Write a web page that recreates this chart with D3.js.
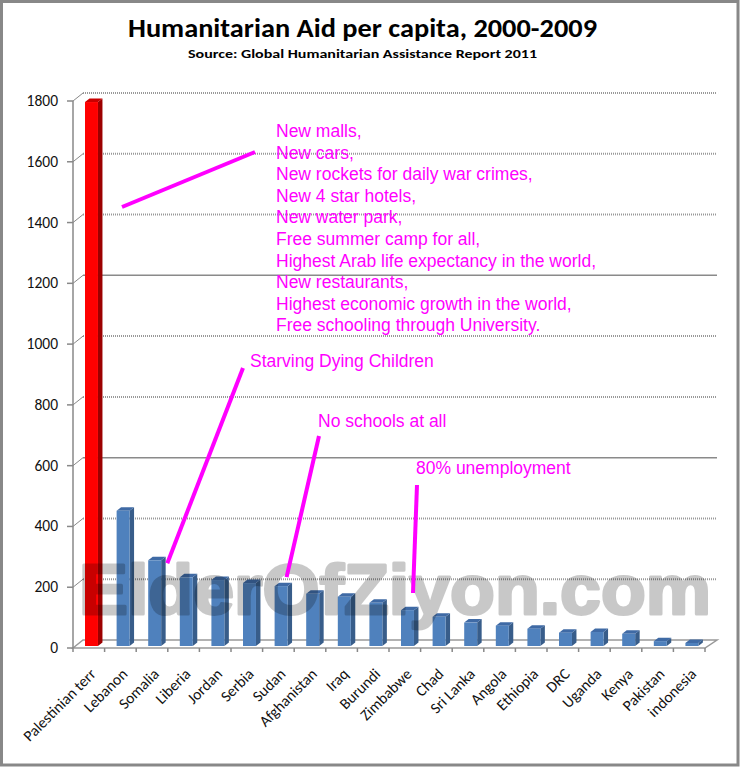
<!DOCTYPE html>
<meta charset="utf-8">
<html>
<body style="margin:0; background-color: white;">
<script src="https://d3js.org/d3.v7.min.js"></script>
<div id="chart"></div>
<script>
// data
var countries = ["Palestinian terr", "Lebanon", "Somalia", "Liberia", "Jordan", "Serbia", "Sudan",
  "Afghanistan", "Iraq", "Burundi", "Zimbabwe", "Chad", "Sri Lanka", "Angola", "Ethiopia",
  "DRC", "Uganda", "Kenya", "Pakistan", "indonesia"];
var aidPerCapita = [1790, 445, 282, 226, 217, 207, 197, 172, 162, 142, 118, 96, 77, 67, 57, 44, 46, 40, 16, 10];
var yTicks = [0, 200, 400, 600, 800, 1000, 1200, 1400, 1600, 1800];
var solidGrid = [600, 1200];

var claims = ["New malls,", "New cars,", "New rockets for daily war crimes,", "New 4 star hotels,",
  "New water park,", "Free summer camp for all,", "Highest Arab life expectancy in the world,",
  "New restaurants,", "Highest economic growth in the world,", "Free schooling through University."];
var notes = [
  {text: "Starving Dying Children", country: "Somalia"},
  {text: "No schools at all", country: "Sudan"},
  {text: "80% unemployment", country: "Zimbabwe"}
];

var W = 741, H = 768;
var svg = d3.select("#chart").append("svg")
  .attr("width", W).attr("height", H);

svg.append("rect")
  .attr("x", 1.5).attr("y", 1.5).attr("width", 736.5).attr("height", 763.5)
  .attr("fill", "white").attr("stroke", "#888").attr("stroke-width", 3);

var tickFont = "Carlito, Calibri, Lato, sans-serif";

// titles
svg.append("text")
  .attr("x", 362.5).attr("y", 37)
  .attr("text-anchor", "middle")
  .attr("font-family", tickFont).attr("font-weight", "bold").attr("font-size", 27)
  .attr("textLength", 469).attr("lengthAdjust", "spacingAndGlyphs")
  .text("Humanitarian Aid per capita, 2000-2009");
svg.append("text")
  .attr("x", 362.5).attr("y", 58)
  .attr("text-anchor", "middle")
  .attr("font-family", tickFont).attr("font-weight", "bold").attr("font-size", 12.5)
  .attr("textLength", 349).attr("lengthAdjust", "spacingAndGlyphs")
  .text("Source: Global Humanitarian Assistance Report 2011");

// scales
var x = d3.scaleBand().domain(countries).range([73, 705]);
var y = d3.scaleLinear().domain([0, 1800]).range([648, 101]);
var bw = x.bandwidth();
var dx = 10, dy = 8;     // depth of the 3d walls
var bdx = 4.5, bdy = 3.5; // depth of a column

// back wall gridlines and side wall connectors
var grid = svg.append("g");
yTicks.forEach(function(t) {
  if (t === 0) return;
  var solid = solidGrid.indexOf(t) >= 0;
  grid.append("line")
    .attr("x1", 73 + dx).attr("x2", 717)
    .attr("y1", y(t) - dy).attr("y2", y(t) - dy)
    .attr("stroke", solid ? "#8a8a8a" : "#999")
    .attr("stroke-width", solid ? 1.5 : 2)
    .attr("stroke-dasharray", solid ? null : "1,1");
  grid.append("line")
    .attr("x1", 73).attr("y1", y(t))
    .attr("x2", 73 + dx).attr("y2", y(t) - dy)
    .attr("stroke", "#888").attr("stroke-width", 1);
});

// floor
svg.append("path")
  .attr("d", "M73," + y(0) + "L" + (73 + dx) + "," + (y(0) - dy) + "L717," + (y(0) - dy) +
    "L705," + y(0) + "Z")
  .attr("fill", "none").attr("stroke", "#999").attr("stroke-width", 1.5);

// y axis
var yAxis = svg.append("g");
yAxis.append("line")
  .attr("x1", 73).attr("x2", 73).attr("y1", y(1800)).attr("y2", y(0))
  .attr("stroke", "#888").attr("stroke-width", 1.5);
yAxis.selectAll(".yt").data(yTicks).enter().append("line")
  .attr("x1", 67).attr("x2", 73)
  .attr("y1", function(d) { return y(d); }).attr("y2", function(d) { return y(d); })
  .attr("stroke", "#888").attr("stroke-width", 1.5);
yAxis.selectAll(".yl").data(yTicks).enter().append("text")
  .attr("x", 58).attr("y", function(d) { return y(d) + 5; })
  .attr("text-anchor", "end")
  .attr("font-family", tickFont).attr("font-size", 15.5)
  .attr("fill", "#111")
  .text(function(d) { return d; });

// x axis ticks and labels
svg.selectAll(".xt").data(countries.concat([null])).enter().append("line")
  .attr("x1", function(d, i) { return 73 + i * bw; })
  .attr("x2", function(d, i) { return 73 + i * bw; })
  .attr("y1", y(0)).attr("y2", y(0) + 4)
  .attr("stroke", "#888").attr("stroke-width", 1.5);
svg.selectAll(".xl").data(countries).enter().append("text")
  .attr("transform", function(d) {
    return "translate(" + (x(d) + bw / 2 + 8) + ",675) rotate(-45)";
  })
  .attr("text-anchor", "end")
  .attr("font-family", tickFont).attr("font-size", 15.5)
  .attr("fill", "#111")
  .text(function(d) { return d; });

// 3d columns
var bars = svg.selectAll(".bar").data(countries).enter().append("g");
function colors(i) {
  return i === 0 ? {front: "#ff0000", side: "#9c0000", top: "#c80000"}
                 : {front: "#4f81bd", side: "#385d8a", top: "#3f6aa5"};
}
bars.each(function(c, i) {
  var g = d3.select(this);
  var v = aidPerCapita[i];
  var x0 = x(c) + bw * 0.38, w = bw * 0.41;
  var yb = y(0) - 2, yt = y(v) - 2;
  var col = colors(i);
  g.append("path")
    .attr("d", "M" + (x0 + w) + "," + yb + "L" + (x0 + w + bdx) + "," + (yb - bdy) +
      "L" + (x0 + w + bdx) + "," + (yt - bdy) + "L" + (x0 + w) + "," + yt + "Z")
    .attr("fill", col.side);
  g.append("path")
    .attr("d", "M" + x0 + "," + yt + "L" + (x0 + bdx) + "," + (yt - bdy) +
      "L" + (x0 + w + bdx) + "," + (yt - bdy) + "L" + (x0 + w) + "," + yt + "Z")
    .attr("fill", col.top);
  g.append("rect")
    .attr("x", x0).attr("y", yt).attr("width", w).attr("height", yb - yt)
    .attr("fill", col.front);
});

// watermark (stroked to thicken, opacity on the group so overlaps stay even)
svg.append("g").attr("opacity", 0.21)
  .append("text")
  .attr("x", 79).attr("y", 614)
  .attr("font-family", "'Liberation Sans', Arial, sans-serif").attr("font-weight", "bold")
  .attr("font-size", 70)
  .attr("textLength", 632).attr("lengthAdjust", "spacingAndGlyphs")
  .attr("fill", "#000").attr("stroke", "#000").attr("stroke-width", 3)
  .attr("stroke-linejoin", "round")
  .text("ElderOfZiyon.com");

// annotations
var magenta = "#ff00ff";
var annFont = "'Liberation Sans', Arial, sans-serif";
var ann = svg.append("g").attr("fill", magenta).attr("font-family", annFont).attr("font-size", 17.5);
ann.selectAll(".claim").data(claims).enter().append("text")
  .attr("x", 276).attr("y", function(d, i) { return 137 + i * 21.6; })
  .text(function(d) { return d; });

var noteX = [250, 318, 416], noteY = [367, 427, 474];
ann.selectAll(".note").data(notes).enter().append("text")
  .attr("x", function(d, i) { return noteX[i]; })
  .attr("y", function(d, i) { return noteY[i]; })
  .text(function(d) { return d.text; });

// pointer lines: [from x, from y, to x, to y]
var pointers = [
  [255, 152, 122, 207],
  [243, 368, x("Somalia") + bw - 0.5, y(aidPerCapita[2]) + 1],
  [319, 436, x("Sudan") + 24, y(aidPerCapita[6]) - 11],
  [417, 485, x("Zimbabwe") + 24, 593]
];
svg.selectAll(".ptr").data(pointers).enter().append("line")
  .attr("x1", function(d) { return d[0]; }).attr("y1", function(d) { return d[1]; })
  .attr("x2", function(d) { return d[2]; }).attr("y2", function(d) { return d[3]; })
  .attr("stroke", magenta).attr("stroke-width", 4);
</script>
</body>
</html>
